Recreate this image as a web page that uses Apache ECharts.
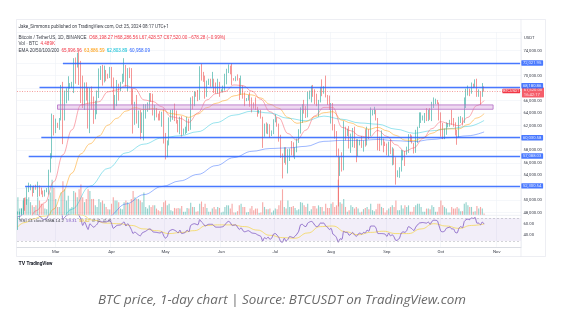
<!DOCTYPE html>
<html>
<head>
<meta charset="utf-8">
<title>BTC price, 1-day chart</title>
<script src="https://cdn.jsdelivr.net/npm/echarts@6/dist/echarts.min.js"></script>
<style>
  html, body { margin: 0; padding: 0; background: #ffffff; }
  #chart { width: 564px; height: 324px; }
</style>
</head>
<body>
<div id="chart"></div>
<script>
// BTCUSDT daily candles, 9 Feb 2024 - 25 Oct 2024 (prices in thousand USDT)
const firstDay = '2024-02-09';
const axisDayCount = 280; // time axis continues into mid-November

const opens = [
  45.29, 47.13, 47.75, 48.29, 49.96, 49.70, 51.80, 51.94, 52.14, 51.66, 52.12, 51.78, 52.26, 51.85, 51.30, 50.73, 51.57, 51.73, 54.48, 57.04, 62.43,
  61.13, 62.39, 61.99, 63.11, 68.25, 63.72, 66.07, 66.82, 68.12, 68.31, 68.95, 72.08, 71.45, 73.07, 71.39, 69.50, 65.30, 68.39, 67.61, 61.94, 67.84, 65.50, 63.79, 64.04, 67.21, 69.96, 69.99, 69.45, 70.74, 69.89, 69.65,
  71.33, 69.70, 65.46, 65.96, 68.51, 67.84, 68.90, 69.36, 71.62, 69.15, 70.59, 70.06, 67.20, 63.77, 65.12, 63.46, 63.79, 61.28, 63.47, 63.82, 64.94, 64.94, 66.84, 66.41, 64.28, 64.50, 63.77, 63.46, 63.12, 63.84,
  60.67, 58.32, 59.12, 62.89, 63.89, 64.03, 63.16, 62.31, 61.19, 63.07, 60.79, 60.83, 61.48, 62.94, 61.58, 66.27, 65.23, 67.05, 66.94, 66.28, 71.45, 70.14, 69.12, 67.93, 68.53, 69.28, 68.51, 69.39, 68.36, 67.64, 68.35,
  67.49, 67.70, 67.75, 68.80, 70.55, 71.08, 70.76, 69.34, 69.30, 69.65, 69.51, 67.32, 68.24, 66.76, 66.01, 66.19, 66.64, 66.49, 65.15, 64.96, 64.83, 64.10, 64.25, 63.18, 60.28, 61.81, 60.84, 61.69, 60.32, 60.89,
  62.68, 62.77, 62.02, 60.20, 57.05, 56.66, 58.24, 55.86, 56.71, 58.05, 57.72, 57.34, 57.90, 59.23, 60.80, 64.72, 65.04, 64.09, 63.97, 66.71, 67.15, 68.19, 67.55, 65.93, 65.37, 65.78, 67.90, 67.81, 68.25, 66.78, 66.19,
  64.62, 65.35, 61.50, 60.68, 58.12, 54.02, 56.05, 55.13, 61.70, 60.88, 60.95, 58.71, 59.35, 60.60, 58.74, 57.56, 58.87, 59.49, 58.43, 59.47, 59.01, 61.16, 60.38, 64.09, 64.18, 64.25, 62.83, 59.42, 59.03, 59.36, 59.12,
  58.97, 57.30, 59.13, 57.49, 57.97, 56.16, 53.95, 54.16, 54.87, 57.05, 57.65, 57.34, 58.13, 60.57, 60.00, 59.18, 58.21, 60.31, 61.76, 62.95, 63.20, 63.35, 63.58, 63.34, 64.26, 63.14, 65.17, 65.77, 65.86, 65.60,
  63.30, 60.81, 60.63, 60.75, 62.07, 62.07, 62.82, 62.22, 62.13, 60.58, 60.27, 62.45, 63.19, 62.85, 66.05, 67.04, 67.61, 67.37, 68.43, 68.36, 69.00, 67.37, 67.38, 66.68, 68.19827
];
const highs = [
  48.20, 48.17, 48.60, 50.33, 50.37, 52.08, 52.82, 52.57, 52.20, 52.35, 52.49, 52.98, 52.37, 52.03, 51.55, 51.67, 51.95, 54.90, 57.55, 63.90, 63.68,
  63.10, 62.43, 63.20, 68.50, 69.00, 67.60, 67.98, 69.90, 68.80, 69.00, 72.80, 72.90, 73.65, 73.78, 72.36, 70.00, 68.90, 68.92, 68.10, 68.03, 68.24, 66.65, 65.97, 67.60, 71.15, 71.56, 71.73, 71.60, 70.91, 70.30, 71.40,
  71.40, 69.70, 66.90, 69.30, 68.70, 69.00, 70.30, 72.80, 71.70, 71.20, 71.30, 71.20, 67.90, 65.80, 66.90, 64.40, 64.50, 64.10, 65.40, 65.40, 65.70, 67.20, 67.20, 67.10, 65.30, 64.80, 63.90, 64.30, 64.20, 64.70,
  60.80, 59.60, 63.30, 64.50, 64.60, 65.50, 64.40, 62.90, 63.40, 63.50, 61.50, 61.80, 63.40, 63.10, 66.50, 66.70, 67.50, 67.40, 67.70, 71.50, 71.90, 70.60, 70.00, 69.20, 69.50, 69.50, 70.60, 69.50, 68.90, 69.50, 69.00,
  67.80, 68.40, 70.30, 71.10, 71.80, 71.60, 71.99, 69.60, 69.90, 70.20, 69.60, 70.00, 68.40, 67.30, 66.40, 66.90, 67.30, 66.50, 65.70, 66.50, 65.00, 64.50, 64.50, 63.40, 62.30, 62.50, 62.30, 62.20, 61.20, 63.00,
  63.80, 63.30, 62.30, 60.50, 57.50, 58.50, 58.50, 58.20, 58.30, 59.50, 59.30, 58.50, 59.90, 61.40, 64.90, 65.40, 66.10, 65.10, 67.40, 67.60, 68.40, 68.50, 67.80, 67.10, 66.10, 68.20, 69.40, 68.30, 70.00, 66.90, 66.80,
  65.60, 65.60, 62.20, 61.10, 58.30, 57.00, 57.70, 62.70, 61.80, 61.50, 61.90, 60.70, 61.60, 61.80, 59.80, 59.80, 59.70, 60.30, 59.60, 61.40, 61.80, 61.40, 64.90, 64.50, 65.00, 64.50, 63.20, 60.20, 61.20, 59.90, 59.40,
  59.10, 59.40, 59.80, 58.50, 58.30, 56.90, 54.80, 55.30, 58.10, 58.00, 57.90, 58.60, 60.60, 60.60, 60.40, 59.20, 61.30, 61.80, 64.10, 64.10, 63.60, 64.00, 64.80, 64.50, 64.80, 65.80, 66.50, 66.30, 66.10, 65.70,
  64.10, 62.40, 61.50, 62.50, 62.40, 62.90, 64.50, 63.20, 62.50, 61.30, 63.40, 63.50, 63.30, 66.50, 67.90, 68.40, 67.90, 68.90, 68.70, 69.40, 69.50, 67.80, 67.50, 68.80, 68.28656
];
const lows = [
  45.24, 46.80, 47.55, 47.70, 48.30, 49.26, 51.30, 51.60, 50.60, 51.16, 51.68, 50.52, 50.63, 50.93, 50.50, 50.59, 51.28, 50.90, 54.45, 56.70, 60.40,
  60.77, 61.60, 61.30, 62.80, 59.00, 62.80, 65.55, 66.00, 67.90, 68.00, 67.20, 68.70, 71.30, 68.50, 65.60, 64.80, 64.50, 66.00, 61.50, 60.77, 64.53, 62.26, 63.00, 63.80, 66.40, 69.30, 68.40, 68.90, 69.10, 69.50, 69.60,
  68.10, 64.50, 64.50, 65.10, 66.00, 67.50, 68.70, 69.00, 68.20, 67.50, 69.60, 65.30, 60.70, 62.10, 62.30, 61.60, 59.80, 60.80, 59.60, 63.10, 64.20, 64.50, 65.80, 63.60, 62.80, 63.30, 62.80, 62.80, 61.80, 59.10,
  56.55, 56.90, 58.80, 62.60, 62.90, 62.70, 62.30, 60.90, 60.60, 60.20, 60.50, 60.60, 60.80, 61.10, 61.30, 64.60, 65.10, 66.60, 65.90, 66.10, 69.20, 69.00, 66.30, 66.60, 68.50, 68.20, 68.20, 67.20, 67.10, 67.10, 66.60,
  67.40, 67.30, 67.60, 68.60, 70.40, 70.20, 68.50, 69.20, 69.10, 69.20, 66.10, 66.90, 66.30, 65.10, 65.90, 66.00, 65.00, 64.10, 64.70, 64.50, 63.40, 63.90, 63.10, 58.40, 60.20, 60.70, 60.60, 60.00, 60.30, 60.60,
  62.50, 61.80, 59.40, 56.80, 53.50, 56.00, 55.70, 54.30, 56.30, 57.20, 56.90, 56.60, 57.70, 59.20, 60.70, 62.40, 63.90, 63.20, 63.30, 66.20, 65.70, 66.60, 65.40, 65.10, 63.40, 65.70, 66.70, 67.10, 66.50, 65.30, 64.50,
  62.30, 61.20, 59.90, 57.10, 49.00, 53.90, 54.60, 54.80, 59.60, 60.30, 58.30, 57.60, 58.50, 58.40, 56.10, 57.10, 58.80, 58.40, 57.80, 58.60, 58.80, 59.80, 60.30, 63.60, 63.80, 62.80, 58.00, 57.90, 58.80, 57.70, 58.70,
  57.20, 57.10, 57.40, 55.60, 55.70, 52.50, 53.70, 53.60, 54.60, 56.40, 55.50, 57.30, 57.60, 59.40, 59.10, 57.50, 57.60, 59.20, 61.60, 62.40, 62.80, 62.40, 62.70, 62.70, 62.90, 62.70, 64.80, 65.40, 65.40, 62.80,
  60.20, 59.80, 59.80, 60.50, 61.70, 61.80, 62.10, 61.80, 60.40, 58.90, 60.10, 62.40, 62.00, 62.40, 64.80, 66.80, 66.70, 67.10, 68.00, 68.10, 66.60, 66.60, 65.30, 66.60, 67.42857
];
const closes = [
  47.13, 47.75, 48.29, 49.96, 49.70, 51.80, 51.94, 52.14, 51.66, 52.12, 51.78, 52.26, 51.85, 51.30, 50.73, 51.57, 51.73, 54.48, 57.04, 62.43, 61.13,
  62.39, 61.99, 63.11, 68.25, 63.72, 66.07, 66.82, 68.12, 68.31, 68.95, 72.08, 71.45, 73.07, 71.39, 69.50, 65.30, 68.39, 67.61, 61.94, 67.84, 65.50, 63.79, 64.04, 67.21, 69.96, 69.99, 69.45, 70.74, 69.89, 69.65, 71.33,
  69.70, 65.46, 65.96, 68.51, 67.84, 68.90, 69.36, 71.62, 69.15, 70.59, 70.06, 67.20, 63.77, 65.12, 63.46, 63.79, 61.28, 63.47, 63.82, 64.94, 64.94, 66.84, 66.41, 64.28, 64.50, 63.77, 63.46, 63.12, 63.84, 60.67,
  58.32, 59.12, 62.89, 63.89, 64.03, 63.16, 62.31, 61.19, 63.07, 60.79, 60.83, 61.48, 62.94, 61.58, 66.27, 65.23, 67.05, 66.94, 66.28, 71.45, 70.14, 69.12, 67.93, 68.53, 69.28, 68.51, 69.39, 68.36, 67.64, 68.35, 67.49,
  67.70, 67.75, 68.80, 70.55, 71.08, 70.76, 69.34, 69.30, 69.65, 69.51, 67.32, 68.24, 66.76, 66.01, 66.19, 66.64, 66.49, 65.15, 64.96, 64.83, 64.10, 64.25, 63.18, 60.28, 61.81, 60.84, 61.69, 60.32, 60.89, 62.68,
  62.77, 62.02, 60.20, 57.05, 56.66, 58.24, 55.86, 56.71, 58.05, 57.72, 57.34, 57.90, 59.23, 60.80, 64.72, 65.04, 64.09, 63.97, 66.71, 67.15, 68.19, 67.55, 65.93, 65.37, 65.78, 67.90, 67.81, 68.25, 66.78, 66.19, 64.62,
  65.35, 61.50, 60.68, 58.12, 54.02, 56.05, 55.13, 61.70, 60.88, 60.95, 58.71, 59.35, 60.60, 58.74, 57.56, 58.87, 59.49, 58.43, 59.47, 59.01, 61.16, 60.38, 64.09, 64.18, 64.25, 62.83, 59.42, 59.03, 59.36, 59.12, 58.97,
  57.30, 59.13, 57.49, 57.97, 56.16, 53.95, 54.16, 54.87, 57.05, 57.65, 57.34, 58.13, 60.57, 60.00, 59.18, 58.21, 60.31, 61.76, 62.95, 63.20, 63.35, 63.58, 63.34, 64.26, 63.14, 65.17, 65.77, 65.86, 65.60, 63.30,
  60.81, 60.63, 60.75, 62.07, 62.07, 62.82, 62.22, 62.13, 60.58, 60.27, 62.45, 63.19, 62.85, 66.05, 67.04, 67.61, 67.37, 68.43, 68.36, 69.00, 67.37, 67.38, 66.68, 68.19828, 67.52
];
// Daily volume in thousand BTC
const volumes = [
  55, 20, 22, 45, 55, 50, 55, 40, 30, 25, 30, 55, 45, 35, 35, 20, 18, 50, 70, 110, 85,
  50, 25, 25, 70, 105, 80, 45, 60, 20, 25, 75, 70, 55, 80, 95, 55, 40, 50, 80, 75, 50, 50, 30, 25, 50, 40, 45, 35, 25, 18, 17,
  35, 55, 45, 45, 40, 20, 18, 40, 45, 40, 35, 50, 75, 55, 50, 50, 45, 40, 70, 25, 20, 30, 25, 30, 30, 20, 15, 12, 25, 40,
  45, 30, 35, 15, 12, 22, 20, 22, 20, 28, 10, 10, 22, 20, 38, 25, 25, 10, 12, 35, 42, 25, 35, 22, 10, 10, 20, 25, 18, 25, 22,
  8, 10, 25, 30, 30, 20, 35, 8, 8, 12, 30, 35, 25, 25, 8, 9, 20, 28, 15, 20, 20, 6, 8, 40, 25, 18, 18, 20, 8, 14,
  20, 18, 30, 45, 80, 25, 20, 45, 25, 25, 28, 22, 15, 18, 40, 38, 30, 25, 35, 12, 18, 28, 28, 20, 30, 25, 25, 12, 35, 22, 22,
  35, 40, 25, 30, 110, 40, 35, 50, 25, 10, 15, 30, 25, 20, 25, 20, 8, 10, 18, 22, 25, 18, 35, 15, 12, 18, 35, 35, 25, 22, 8,
  15, 20, 25, 30, 25, 45, 15, 15, 30, 20, 30, 25, 30, 10, 10, 25, 30, 35, 35, 25, 10, 10, 20, 20, 18, 30, 25, 10, 10, 25,
  45, 30, 25, 20, 8, 8, 25, 20, 20, 25, 20, 12, 12, 35, 40, 30, 25, 25, 10, 12, 28, 20, 25, 20, 4.489
];

// Exponential moving averages as [day offset, value]
const ema20 = [[0,44.0],[5,46.0],[10,48.3],[15,49.6],[20,53.0],[25,57.3],[30,61.3],[35,65.3],[40,65.6],[45,65.8],[50,67.4],[55,67.7],[60,68.4],[65,67.9],[70,66.1],[75,65.85],[80,65.0],[85,63.4],[90,63.15],[95,62.5],[100,64.0],[105,66.1],[110,67.1],[115,67.45],[120,68.5],[125,68.4],[130,67.5],[135,66.2],[140,64.2],[145,63.2],[150,60.7],[155,59.65],[160,61.25],[165,63.55],[170,64.9],[175,64.9],[180,61.7],[185,61.15],[190,60.3],[195,60.05],[200,61.2],[205,60.25],[210,58.9],[215,57.85],[220,58.4],[225,59.9],[230,61.5],[235,62.6],[240,62.25],[245,61.95],[250,63.3],[255,65.2],[259,65.99696]];
const ema50 = [[0,43.0],[5,44.2],[10,45.6],[15,46.65],[20,48.6],[25,51.4],[30,54.35],[35,57.45],[40,59.05],[45,60.3],[50,62.05],[55,63.15],[60,64.3],[65,64.85],[70,64.55],[75,64.7],[80,64.5],[85,63.9],[90,63.7],[95,63.3],[100,63.85],[105,64.85],[110,65.55],[115,66.0],[120,66.75],[125,67.05],[130,66.9],[135,66.4],[140,65.4],[145,64.75],[150,63.3],[155,62.35],[160,62.6],[165,63.4],[170,64.05],[175,64.2],[180,62.85],[185,62.4],[190,61.8],[195,61.4],[200,61.7],[205,61.15],[210,60.4],[215,59.65],[220,59.55],[225,60.05],[230,60.75],[235,61.4],[240,61.45],[245,61.45],[250,62.15],[255,63.2],[259,63.88659]];
const ema100 = [[0,40.8],[10,42.6],[20,44.75],[30,48.55],[40,52.25],[50,55.1],[60,57.6],[70,59.0],[80,60.0],[90,60.35],[100,61.0],[110,62.45],[120,63.65],[130,64.3],[140,64.0],[150,63.15],[160,62.75],[170,63.5],[180,63.0],[190,62.4],[200,62.2],[210,61.4],[220,60.75],[230,61.15],[240,61.5],[250,61.85],[259,62.80389]];
const ema200 = [[0,37.5],[10,38.75],[20,40.25],[30,42.7],[40,45.2],[50,47.35],[60,49.4],[70,50.9],[80,52.2],[90,53.1],[100,54.15],[110,55.55],[120,56.85],[130,57.85],[140,58.3],[150,58.4],[160,58.65],[170,59.45],[180,59.6],[190,59.6],[200,59.75],[210,59.55],[220,59.4],[230,59.75],[240,60.05],[250,60.35],[259,60.95809]];

// RSI 14 and its 14-day SMA as [day offset, value]
const rsiLine = [[0,72],[2,74],[3,78],[5,80],[7,79],[9,78],[11,76],[13,70],[14,67],[16,69],[17,75],[19,85],[20,80],[21,82],[24,87],[25,68],[27,74],[29,77],[31,81],[33,82],[34,74],[35,68],[36,57],[37,63],[39,50],[40,60],[42,54],[44,59],[45,64],[47,63],[49,63],[51,66],[52,61],[53,52],[55,57],[57,58],[59,63],[60,56],[61,60],[63,50],[64,43],[65,46],[66,43],[68,39],[69,44],[71,47],[73,51],[74,50],[75,46],[77,45],[79,44],[80,46],[81,39],[82,35],[83,38],[84,47],[86,50],[88,47],[89,44],[90,49],[91,43],[93,45],[94,49],[95,46],[96,57],[98,60],[100,58],[101,67],[102,63],[103,60],[104,56],[106,59],[108,59],[109,56],[110,54],[112,54],[114,55],[115,58],[116,62],[117,64],[118,62],[119,57],[121,58],[123,50],[124,53],[125,48],[126,46],[128,48],[130,44],[132,43],[133,41],[135,38],[136,30],[137,36],[138,34],[139,37],[140,33],[141,35],[142,42],[143,43],[145,36],[146,29],[147,28],[148,35],[149,30],[150,33],[151,38],[153,36],[155,42],[156,47],[157,58],[158,59],[159,56],[160,55],[161,61],[163,64],[164,62],[165,57],[166,55],[167,56],[168,61],[170,61],[171,56],[172,54],[173,50],[174,52],[175,42],[176,40],[177,36],[178,28],[179,34],[180,33],[181,47],[182,45],[183,45],[184,40],[185,42],[186,45],[187,41],[188,38],[189,42],[190,44],[191,42],[192,45],[193,44],[194,49],[195,47],[196,56],[198,56],[199,52],[200,43],[202,43],[204,42],[205,38],[206,44],[207,39],[208,41],[209,37],[210,31],[211,32],[212,35],[213,44],[214,46],[215,45],[216,48],[217,55],[219,51],[220,48],[221,54],[222,58],[223,61],[225,62],[227,61],[228,63],[229,59],[230,64],[231,66],[233,65],[234,56],[235,47],[236,46],[237,47],[238,52],[240,54],[241,51],[242,51],[243,45],[244,44],[245,52],[246,55],[247,53],[248,64],[249,67],[250,68],[251,67],[252,70],[253,69],[254,71],[255,61],[256,61],[257,58],[258,63],[259,59.31]];
const rsiSignal = [[0,55],[4,62],[8,68],[14,73],[21,77],[28,77],[35,75],[42,66],[49,61],[56,60],[63,57],[70,51],[77,48],[84,43],[91,45],[98,48],[105,57],[112,58],[119,58],[126,55],[133,49],[140,40],[147,36],[154,35],[161,44],[168,55],[175,56],[182,46],[189,41],[196,45],[203,47],[210,43],[217,43],[224,51],[231,60],[238,56],[245,52],[252,57],[259,59.62]];

// Drawn horizontal levels (thousand USDT) and the day each one starts on
const levelPrices = [72.02195, 68.18086, 60.03058, 57.08803, 52.30054];
const levelStartDays = [25, 12, 13, 6, 4];
// Highlighted zone
const zonePrices = [65.3, 64.6];
const zoneDays = [22, 264];

const monthNames = ['Jan', 'Feb', 'Mar', 'Apr', 'May', 'Jun', 'Jul', 'Aug', 'Sep', 'Oct', 'Nov', 'Dec'];
const hiddenPriceTicks = [52, 60, 68, 72]; // covered by level tags

// ---------------------------------------------------------------------------
const FONT = 'Roboto, "Liberation Sans", sans-serif';
const UP = '#26a69a', DOWN = '#ef5350', LEVEL = '#2962ff';

const categories = [];
const t0 = Date.parse(firstDay + 'T00:00:00Z');
for (let i = 0; i < axisDayCount; i++) {
  categories.push(new Date(t0 + i * 86400000).toISOString().slice(0, 10));
}
const lastIdx = closes.length - 1;
const lastDay = axisDayCount - 1;
const isMonthStart = (idx, val) => val.slice(8) === '01';
const fmtPrice = v => (v * 1000).toLocaleString('en-US', { minimumFractionDigits: 2, maximumFractionDigits: 2 });

const candleData = closes.map((c, i) => [opens[i], c, lows[i], highs[i]]);
const volumeData = volumes.map((v, i) => ({
  value: v,
  itemStyle: { color: closes[i] >= opens[i] ? 'rgba(38,166,154,0.5)' : 'rgba(239,83,80,0.5)' }
}));

const levelTag = (bg, offsetY) => ({
  show: true, position: 'end', distance: 1, color: '#ffffff', backgroundColor: bg,
  fontSize: 4.2, fontFamily: FONT, padding: [0.9, 1.8, 0.5, 1.8], borderRadius: 0.6,
  offset: [0, offsetY || 0]
});

const levelLines = levelPrices.map((p, k) => [
  {
    coord: [levelStartDays[k], p],
    lineStyle: { color: LEVEL, width: 1.4, opacity: 0.85, type: 'solid' },
    label: Object.assign(levelTag(LEVEL, k === 1 ? -1.2 : 0), { formatter: () => fmtPrice(p) })
  },
  { coord: [lastDay, p] }
]);

const lastLine = {
  yAxis: closes[lastIdx],
  lineStyle: { color: '#ef5350', width: 0.7, type: [1, 1.5], opacity: 0.8 },
  label: Object.assign(levelTag('#f23645', 1.4), {
    formatter: () => fmtPrice(closes[lastIdx]) + '\n16:42:17', lineHeight: 4.3
  })
};

const emaLine = (data, color, opacity) => ({
  type: 'line', xAxisIndex: 0, yAxisIndex: 0, data, showSymbol: false, smooth: 0.4,
  smoothMonotone: 'x', silent: true, z: 4,
  lineStyle: { color, width: 0.9, opacity }
});

const option = {
  backgroundColor: '#ffffff',
  animation: false,
  textStyle: { fontFamily: FONT },
  grid: [
    { left: 17, width: 504, top: 32, height: 183 },
    { left: 17, width: 504, top: 179, height: 36 },
    { left: 17, width: 504, top: 215, height: 31.9 }
  ],
  xAxis: [0, 1, 2].map(g => ({
    type: 'category', gridIndex: g, data: categories, boundaryGap: true,
    axisLine: { show: g === 2, lineStyle: { color: '#d1d4dc', width: 0.8 } },
    axisTick: { show: false },
    axisLabel: g === 2 ? {
      interval: isMonthStart, formatter: v => monthNames[+v.slice(5, 7) - 1],
      fontSize: 4.3, color: '#3a3e4a', margin: 3
    } : { show: false },
    splitLine: g === 1 ? { show: false } : { show: true, interval: isMonthStart, lineStyle: { color: '#eff1f6', width: 0.6 } }
  })),
  yAxis: [
    {
      gridIndex: 0, position: 'right', min: 47.63, max: 77, splitNumber: 15,
      axisLine: { show: false }, axisTick: { show: false },
      axisLabel: {
        fontSize: 4.2, color: '#3a3e4a', margin: 2.5,
        formatter: v => {
          const k = Math.round(v);
          if (Math.abs(v - k) > 1e-6 || k % 2 !== 0 || k < 48 || k > 74 || hiddenPriceTicks.includes(k)) return '';
          return fmtPrice(k);
        }
      },
      splitLine: { show: true, lineStyle: { color: '#eff1f6', width: 0.6 } }
    },
    { gridIndex: 1, min: 0, max: 112, show: false, splitLine: { show: false } },
    {
      gridIndex: 2, position: 'right', min: 20, max: 75, interval: 10,
      axisLine: { show: false }, axisTick: { show: false },
      axisLabel: {
        fontSize: 4.2, color: '#3a3e4a', margin: 2.5,
        formatter: v => (v === 40 || v === 60) ? v.toFixed(2) : ''
      },
      splitLine: { show: false }
    }
  ],
  series: [
    {
      name: 'Vol', type: 'bar', xAxisIndex: 1, yAxisIndex: 1, data: volumeData,
      barWidth: '62%', silent: true, z: 1
    },
    {
      name: 'BTCUSDT', type: 'candlestick', xAxisIndex: 0, yAxisIndex: 0, data: candleData,
      barWidth: 1.3, silent: true, z: 3,
      itemStyle: { color: UP, color0: DOWN, borderColor: UP, borderColor0: DOWN, borderWidth: 0.6 },
      markArea: {
        silent: true, z: 6,
        data: [[
          { coord: [zoneDays[0], zonePrices[0]], itemStyle: { color: 'rgba(206,147,216,0.35)', borderColor: '#b36bc4', borderWidth: 0.8 } },
          { coord: [zoneDays[1], zonePrices[1]] }
        ]]
      },
      markLine: {
        silent: true, symbol: ['none', 'none'], z: 7,
        data: [lastLine].concat(levelLines)
      }
    },
    emaLine(ema200, '#2962ff', 0.5),
    emaLine(ema100, '#00bcd4', 0.45),
    emaLine(ema50, '#ff9800', 0.55),
    emaLine(ema20, '#f7525f', 0.55),
    {
      name: 'RSI MA', type: 'line', xAxisIndex: 2, yAxisIndex: 2, data: rsiSignal,
      showSymbol: false, smooth: 0.5, smoothMonotone: 'x', silent: true, z: 3,
      lineStyle: { color: '#f5d547', width: 0.8, opacity: 0.9 }
    },
    {
      name: 'RSI', type: 'line', xAxisIndex: 2, yAxisIndex: 2, data: rsiLine,
      showSymbol: false, smooth: 0.2, silent: true, z: 4,
      lineStyle: { color: '#7e57c2', width: 0.8 },
      markArea: { silent: true, itemStyle: { color: 'rgba(126,87,194,0.1)' }, data: [[{ yAxis: 30 }, { yAxis: 70 }]] },
      markLine: {
        silent: true, symbol: ['none', 'none'], label: { show: false },
        lineStyle: { color: '#9598a1', width: 0.6, type: [2, 2], opacity: 0.7 },
        data: [{ yAxis: 70 }, { yAxis: 30 }]
      }
    }
  ]
};

const chart = echarts.init(document.getElementById('chart'), null, { renderer: 'canvas' });
chart.setOption(option);

// Panel frame, legends and caption
const lastPriceY = chart.convertToPixel({ yAxisIndex: 0 }, closes[lastIdx]);
const tagRight = chart.convertToPixel({ xAxisIndex: 0 }, lastDay) + 0.9;
const emaLast = a => fmtPrice(a[a.length - 1][1]);
const txt = (x, y, text, size, fill, extra) => ({
  type: 'text', x, y, silent: true, z: 20,
  style: Object.assign({ text, fontSize: size, fontFamily: FONT, fill, verticalAlign: 'middle' }, extra || {})
});
const line = (x1, y1, x2, y2, color) => ({
  type: 'line', silent: true, z: 15,
  shape: { x1, y1, x2, y2 }, style: { stroke: color || '#e0e3eb', lineWidth: 0.6 }
});

chart.setOption({
  graphic: [
    { type: 'rect', silent: true, z: 15, shape: { x: 16.5, y: 19.5, width: 529, height: 237 }, style: { fill: 'none', stroke: '#e0e3eb', lineWidth: 0.6 } },
    line(tagRight, 19.5, tagRight, 256.5),
    line(16.5, 215.2, tagRight, 215.2, '#eceef3'),
    txt(18.5, 27.3, 'Jake_Simmons published on TradingView.com, Oct 25, 2024 08:17 UTC+1', 4.6, '#3c3f48'),
    txt(18.5, 37.7,
      '{g|Bitcoin / TetherUS, 1D, BINANCE}  {r|O' + fmtPrice(opens[lastIdx]) + ' H' + fmtPrice(highs[lastIdx]) +
      ' L' + fmtPrice(lows[lastIdx]) + ' C' + fmtPrice(closes[lastIdx]) + ' −678.28 (−0.99%)}', 4.6, '#3c3f48',
      { rich: { g: { fill: '#3c3f48', color: '#3c3f48', fontSize: 4.6 }, r: { fill: '#f23645', color: '#f23645', fontSize: 4.6 } } }),
    txt(18.5, 44.2, '{g|Vol · BTC}  {r|' + volumes[lastIdx] + 'K}', 4.6, '#3c3f48',
      { rich: { g: { fill: '#3c3f48', color: '#3c3f48', fontSize: 4.6 }, r: { fill: '#f23645', color: '#f23645', fontSize: 4.6 } } }),
    txt(18.5, 50.5,
      '{g|EMA 20/50/100/200}  {a|' + emaLast(ema20) + '}  {b|' + emaLast(ema50) + '}  {c|' + emaLast(ema100) + '}  {d|' + emaLast(ema200) + '}',
      4.6, '#3c3f48', {
        rich: {
          g: { fill: '#3c3f48', color: '#3c3f48', fontSize: 4.6 },
          a: { fill: '#f23645', color: '#f23645', fontSize: 4.6 },
          b: { fill: '#ff9800', color: '#ff9800', fontSize: 4.6 },
          c: { fill: '#00bcd4', color: '#00bcd4', fontSize: 4.6 },
          d: { fill: '#2962ff', color: '#2962ff', fontSize: 4.6 }
        }
      }),
    txt(19.5, 221, '{g|RSI 14 close SMA 14 2}  {p|' + rsiLine[rsiLine.length - 1][1].toFixed(2) + '}  {y|' +
      rsiSignal[rsiSignal.length - 1][1].toFixed(2) + '}  {g|∅  ∅  ∅  ∅}', 4.3, '#3c3f48', {
        rich: {
          g: { fill: '#3c3f48', color: '#3c3f48', fontSize: 4.3 },
          p: { fill: '#7e57c2', color: '#7e57c2', fontSize: 4.3 },
          y: { fill: '#e0b400', color: '#e0b400', fontSize: 4.3 }
        }
      }),
    txt(tagRight + 3, 38.2, 'USDT', 4.2, '#3a3e4a'),
    {
      type: 'rect', silent: true, z: 21,
      shape: { x: tagRight - 18.6, y: lastPriceY - 2.2, width: 17.6, height: 4.4, r: 0.6 },
      style: { fill: '#f23645' }
    },
    Object.assign(txt(tagRight - 9.8, lastPriceY + 0.1, 'BTCUSDT', 3.7, '#ffffff', { align: 'center' }), { z: 22 }),
    txt(18.5, 263.5, 'TV', 5.2, '#131722', { fontWeight: 'bold' }),
    txt(26.5, 263.5, 'TradingView', 4.6, '#131722', { fontWeight: 'bold' }),
    {
      type: 'text', silent: true, z: 20, x: 282, y: 300,
      style: {
        text: 'BTC price, 1-day chart | Source: BTCUSDT on TradingView.com',
        fontSize: 13.4, fontStyle: 'italic', fontFamily: '"Open Sans", "Noto Sans", sans-serif',
        fill: '#6a6a6a', align: 'center', verticalAlign: 'middle'
      }
    }
  ]
});
</script>
</body>
</html>
